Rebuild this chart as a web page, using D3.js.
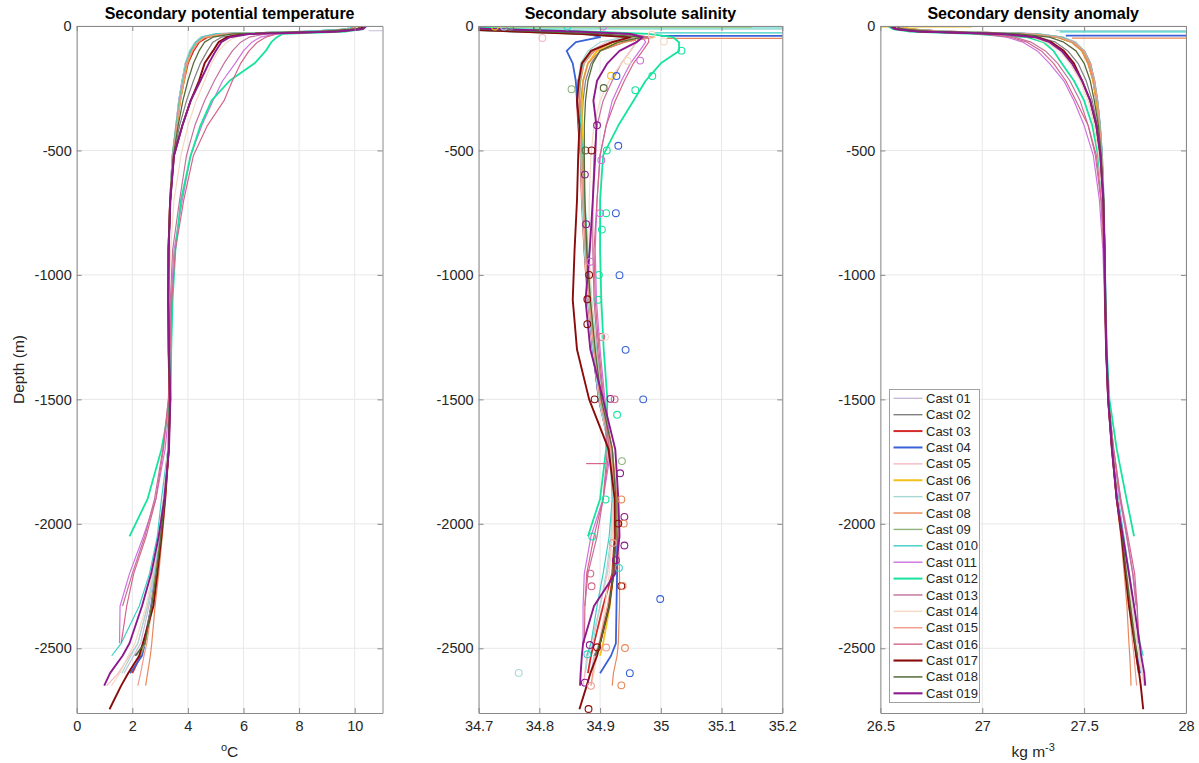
<!DOCTYPE html>
<html>
<head>
<meta charset="utf-8">
<script src="https://cdn.jsdelivr.net/npm/d3@7"></script>
<style>
  body { margin: 0; background: #fff; }
  text { font-family: "Liberation Sans", Arial, Helvetica, sans-serif; }
</style>
</head>
<body>
<svg id="chart" width="1199" height="763"></svg>
<script>
// ---- Sampling depths (m, positive downward) shared by every cast profile ----
const depthGrid = [2, 12, 22, 32, 45, 65, 100, 150, 220, 300, 400, 520, 700, 900,
                   1100, 1300, 1500, 1700, 1900, 2050, 2200, 2330, 2480, 2530, 2600, 2650, 2745];

const castNames = ["Cast 01","Cast 02","Cast 03","Cast 04","Cast 05","Cast 06","Cast 07","Cast 08",
                   "Cast 09","Cast 010","Cast 011","Cast 012","Cast 013","Cast 014","Cast 015",
                   "Cast 016","Cast 017","Cast 018","Cast 019"];

// ---- Potential temperature (°C) per cast, one value per depthGrid level ----
const temperature = [
  [9.9, 9.8, 8.2, 5.0, 4.5, 4.3, 4.1, 3.92, 3.82, 3.7, 3.58, 3.44, 3.35, 3.3, 3.28, 3.3, 3.34, 3.29, 3.14, 2.98, 2.8, 2.6, 2.3, 2.05, 1.7],
  [10.2, 10.1, 9.0, 6.0, 5.2, 4.9, 4.7, 4.45, 4.2, 3.95, 3.7, 3.5, 3.38, 3.31, 3.3, 3.32, 3.36, 3.3, 3.16, 3.02, 2.85, 2.68, 2.4, 2.15],
  [10.0, 9.9, 8.8, 5.4, 4.7, 4.4, 4.2, 4.0, 3.86, 3.72, 3.6, 3.46, 3.36, 3.3, 3.29, 3.31, 3.35, 3.31, 3.17, 3.03, 2.86, 2.7, 2.45, 2.3, 2.0],
  [10.1, 10.0, 8.5, 5.1, 4.55, 4.3, 4.1, 3.92, 3.8, 3.68, 3.58, 3.45, 3.36, 3.3, 3.28, 3.3, 3.34, 3.3, 3.16, 3.02, 2.84, 2.68, 2.45, 2.35, 1.92],
  [10.0, 9.9, 8.4, 5.0, 4.5, 4.3, 4.1, 3.9, 3.8, 3.68, 3.56, 3.44, 3.35, 3.3, 3.28, 3.3, 3.34, 3.28, 3.12, 2.95, 2.75, 2.55, 2.2, 1.9, 1.5, 1.08],
  [10.2, 10.0, 8.9, 5.3, 4.6, 4.35, 4.15, 3.97, 3.85, 3.72, 3.6, 3.46, 3.36, 3.3, 3.29, 3.31, 3.35, 3.31, 3.17, 3.03, 2.85, 2.7, 2.45, 2.25],
  [9.8, 9.7, 8.0, 4.9, 4.45, 4.25, 4.05, 3.9, 3.8, 3.68, 3.57, 3.44, 3.35, 3.3, 3.28, 3.3, 3.34, 3.28, 3.12, 2.96, 2.78, 2.55, 2.2, 1.95, 1.62],
  [10.1, 10.0, 8.6, 5.2, 4.6, 4.35, 4.15, 3.96, 3.84, 3.7, 3.58, 3.45, 3.36, 3.31, 3.3, 3.32, 3.36, 3.32, 3.2, 3.08, 2.95, 2.82, 2.7, 2.65, 2.55, 2.48],
  [10.0, 9.9, 8.3, 5.1, 4.55, 4.3, 4.1, 3.93, 3.82, 3.7, 3.58, 3.45, 3.36, 3.3, 3.29, 3.31, 3.35, 3.3, 3.17, 3.02, 2.86, 2.7, 2.45, 2.3],
  [9.9, 9.8, 8.1, 5.0, 4.5, 4.3, 4.1, 3.93, 3.82, 3.7, 3.58, 3.45, 3.36, 3.3, 3.29, 3.31, 3.33, 3.28, 3.05, 2.9, 2.62, 2.25, 1.6, 1.26],
  [10.3, 10.2, 9.4, 7.2, 6.6, 6.3, 6.0, 5.7, 5.25, 4.9, 4.5, 4.1, 3.8, 3.5, 3.4, 3.36, 3.36, 3.18, 2.85, 2.4, 1.9, 1.56, 1.54],
  [10.4, 10.3, 9.7, 7.4, 7.2, 7.0, 6.8, 6.4, 5.5, 4.85, 4.45, 4.1, 3.75, 3.55, 3.45, 3.4, 3.38, 3.05, 2.55, 1.9],
  [10.2, 10.1, 9.3, 6.8, 6.2, 5.9, 5.6, 5.3, 4.95, 4.6, 4.25, 3.95, 3.7, 3.45, 3.37, 3.34, 3.3, 3.1, 2.8, 2.45, 2.0, 1.65],
  [10.1, 10.0, 9.0, 6.2, 5.7, 5.4, 5.1, 4.85, 4.6, 4.3, 4.0, 3.75, 3.5, 3.38, 3.32, 3.32, 3.35, 3.28, 3.12, 2.95, 2.72, 2.5, 2.1, 1.85, 1.55, 1.25],
  [10.0, 9.9, 8.6, 5.2, 4.6, 4.35, 4.15, 3.95, 3.84, 3.72, 3.6, 3.46, 3.36, 3.31, 3.3, 3.32, 3.36, 3.31, 3.18, 3.05, 2.88, 2.72, 2.52, 2.42, 2.3, 2.2],
  [10.3, 10.2, 9.6, 7.2, 6.8, 6.5, 6.2, 5.9, 5.6, 5.3, 4.7, 4.2, 3.85, 3.55, 3.42, 3.36, 3.3, 3.12, 2.85, 2.5, 2.05, 1.8, 1.6],
  [10.3, 10.2, 9.2, 6.0, 5.4, 5.1, 4.9, 4.6, 4.4, 4.1, 3.8, 3.5, 3.36, 3.3, 3.29, 3.31, 3.35, 3.31, 3.18, 3.05, 2.9, 2.76, 2.38, 2.25, 1.85, 1.6, 1.18],
  [10.2, 10.1, 8.8, 5.6, 4.9, 4.6, 4.4, 4.2, 4.0, 3.82, 3.65, 3.48, 3.37, 3.31, 3.3, 3.32, 3.36, 3.31, 3.17, 3.03, 2.86, 2.7, 2.45, 2.1],
  [10.4, 10.3, 9.4, 6.2, 5.5, 5.2, 5.0, 4.75, 4.45, 4.1, 3.8, 3.5, 3.37, 3.31, 3.3, 3.32, 3.37, 3.32, 3.15, 2.95, 2.68, 2.35, 1.9, 1.65, 1.2, 0.99]
];

// ---- Absolute salinity (g/kg) per cast ----
const salinity = [
  [34.62, 34.66, 34.76, 34.87, 34.96, 34.92, 34.885, 34.87, 34.866, 34.865, 34.866, 34.868, 34.87, 34.875, 34.882, 34.89, 34.9, 34.918, 34.924, 34.924, 34.921, 34.915, 34.9, 34.89, 34.885],
  [34.64, 34.7, 34.8, 34.9, 34.98, 34.94, 34.9, 34.885, 34.876, 34.872, 34.87, 34.872, 34.874, 34.878, 34.884, 34.892, 34.902, 34.92, 34.926, 34.926, 34.922, 34.915, 34.9, 34.89],
  [34.6, 34.66, 34.78, 34.88, 34.97, 34.92, 34.89, 34.872, 34.864, 34.862, 34.864, 34.868, 34.87, 34.874, 34.88, 34.888, 34.898, 34.916, 34.923, 34.924, 34.92, 34.905, 34.89, 34.885, 34.88],
  [34.62, 34.68, 34.8, 34.88, 34.9, 34.86, 34.845, 34.855, 34.86, 34.862, 34.866, 34.87, 34.872, 34.876, 34.882, 34.888, 34.898, 34.918, 34.926, 34.928, 34.928, 34.927, 34.926, 34.918, 34.9],
  [34.6, 34.64, 34.74, 34.86, 34.95, 34.91, 34.885, 34.872, 34.868, 34.866, 34.867, 34.87, 34.872, 34.876, 34.882, 34.89, 34.9, 34.916, 34.922, 34.92, 34.912, 34.9, 34.885, 34.878, 34.875, 34.872],
  [34.6, 34.66, 34.78, 34.89, 34.97, 34.93, 34.895, 34.88, 34.872, 34.87, 34.87, 34.872, 34.874, 34.878, 34.884, 34.892, 34.902, 34.92, 34.926, 34.926, 34.922, 34.916, 34.905, 34.9],
  [34.61, 34.65, 34.75, 34.86, 34.94, 34.9, 34.88, 34.868, 34.864, 34.863, 34.865, 34.868, 34.87, 34.874, 34.88, 34.888, 34.898, 34.915, 34.92, 34.918, 34.91, 34.9, 34.888, 34.88, 34.876],
  [34.62, 34.68, 34.8, 34.9, 34.99, 34.94, 34.9, 34.88, 34.872, 34.868, 34.868, 34.87, 34.873, 34.878, 34.885, 34.893, 34.904, 34.92, 34.928, 34.93, 34.932, 34.932, 34.93, 34.928, 34.922, 34.92],
  [34.61, 34.66, 34.77, 34.88, 34.96, 34.92, 34.888, 34.874, 34.868, 34.866, 34.866, 34.869, 34.872, 34.876, 34.882, 34.89, 34.9, 34.918, 34.925, 34.925, 34.921, 34.914, 34.9, 34.892],
  [34.6, 34.64, 34.74, 34.86, 34.97, 34.92, 34.885, 34.872, 34.866, 34.866, 34.868, 34.872, 34.875, 34.88, 34.886, 34.894, 34.904, 34.918, 34.92, 34.915, 34.905, 34.895, 34.885, 34.878],
  [34.66, 34.72, 34.84, 34.94, 34.97, 34.975, 34.965, 34.95, 34.935, 34.92, 34.91, 34.9, 34.895, 34.892, 34.894, 34.9, 34.908, 34.918, 34.905, 34.885, 34.874, 34.872, 34.872],
  [34.68, 34.74, 34.88, 34.98, 35.02, 35.03, 35.03, 35.0, 34.975, 34.955, 34.93, 34.905, 34.9, 34.9, 34.902, 34.906, 34.912, 34.91, 34.9, 34.88],
  [34.65, 34.71, 34.83, 34.93, 34.96, 34.96, 34.95, 34.935, 34.92, 34.905, 34.895, 34.89, 34.888, 34.888, 34.89, 34.896, 34.905, 34.912, 34.905, 34.895, 34.88, 34.875],
  [34.64, 34.7, 34.82, 34.92, 34.96, 34.96, 34.95, 34.935, 34.915, 34.9, 34.89, 34.885, 34.882, 34.882, 34.886, 34.893, 34.903, 34.918, 34.922, 34.92, 34.915, 34.908, 34.9, 34.895, 34.89, 34.885],
  [34.6, 34.66, 34.76, 34.87, 34.97, 34.92, 34.89, 34.874, 34.866, 34.864, 34.866, 34.869, 34.872, 34.876, 34.882, 34.89, 34.9, 34.918, 34.924, 34.925, 34.922, 34.912, 34.898, 34.892, 34.888, 34.885],
  [34.66, 34.72, 34.85, 34.95, 34.98, 34.98, 34.97, 34.955, 34.94, 34.925, 34.91, 34.9, 34.895, 34.89, 34.892, 34.898, 34.906, 34.915, 34.905, 34.89, 34.878, 34.875, 34.874],
  [34.62, 34.66, 34.76, 34.87, 34.95, 34.92, 34.885, 34.87, 34.865, 34.862, 34.866, 34.864, 34.862, 34.858, 34.855, 34.862, 34.882, 34.914, 34.924, 34.925, 34.922, 34.915, 34.9, 34.895, 34.884, 34.878, 34.866],
  [34.63, 34.69, 34.8, 34.9, 34.97, 34.93, 34.9, 34.888, 34.88, 34.876, 34.874, 34.874, 34.875, 34.878, 34.884, 34.892, 34.902, 34.92, 34.926, 34.926, 34.922, 34.915, 34.9, 34.892],
  [34.64, 34.72, 34.86, 34.95, 34.97, 34.96, 34.932, 34.912, 34.895, 34.889, 34.894, 34.892, 34.888, 34.883, 34.876, 34.884, 34.905, 34.925, 34.93, 34.932, 34.925, 34.89, 34.872, 34.87, 34.868, 34.867]
];

// ---- Density anomaly (kg m^-3) per cast ----
const density = [
  [26.58, 26.6, 26.82, 27.26, 27.39, 27.45, 27.5, 27.53, 27.55, 27.565, 27.578, 27.588, 27.596, 27.6, 27.605, 27.61, 27.62, 27.64, 27.665, 27.69, 27.712, 27.732, 27.755, 27.764, 27.775],
  [26.56, 26.58, 26.7, 27.1, 27.28, 27.36, 27.42, 27.47, 27.51, 27.54, 27.565, 27.583, 27.594, 27.6, 27.604, 27.61, 27.62, 27.64, 27.663, 27.688, 27.708, 27.728, 27.752, 27.76],
  [26.6, 26.62, 26.8, 27.22, 27.37, 27.44, 27.49, 27.52, 27.545, 27.56, 27.575, 27.585, 27.595, 27.6, 27.604, 27.609, 27.618, 27.637, 27.66, 27.685, 27.705, 27.725, 27.748, 27.756, 27.768],
  [26.59, 26.61, 26.8, 27.25, 27.38, 27.45, 27.5, 27.53, 27.55, 27.565, 27.578, 27.588, 27.596, 27.601, 27.605, 27.61, 27.62, 27.64, 27.664, 27.689, 27.71, 27.728, 27.75, 27.758, 27.775],
  [26.6, 26.62, 26.85, 27.27, 27.4, 27.46, 27.5, 27.53, 27.552, 27.566, 27.578, 27.588, 27.596, 27.6, 27.605, 27.61, 27.62, 27.64, 27.666, 27.692, 27.715, 27.735, 27.76, 27.77, 27.785, 27.795],
  [26.62, 26.64, 26.78, 27.22, 27.37, 27.44, 27.49, 27.52, 27.545, 27.56, 27.575, 27.586, 27.595, 27.6, 27.604, 27.609, 27.619, 27.638, 27.662, 27.687, 27.707, 27.727, 27.75, 27.758],
  [26.58, 26.6, 26.86, 27.28, 27.4, 27.46, 27.5, 27.53, 27.55, 27.565, 27.578, 27.588, 27.596, 27.6, 27.605, 27.61, 27.62, 27.64, 27.666, 27.692, 27.714, 27.735, 27.76, 27.77, 27.782],
  [26.6, 26.62, 26.8, 27.24, 27.37, 27.44, 27.49, 27.52, 27.546, 27.562, 27.576, 27.586, 27.595, 27.6, 27.604, 27.609, 27.618, 27.636, 27.658, 27.68, 27.697, 27.71, 27.72, 27.724, 27.728, 27.73],
  [26.6, 26.62, 26.83, 27.25, 27.38, 27.45, 27.5, 27.53, 27.55, 27.565, 27.578, 27.588, 27.596, 27.6, 27.605, 27.61, 27.62, 27.64, 27.664, 27.689, 27.708, 27.727, 27.75, 27.758],
  [26.57, 26.6, 26.84, 27.27, 27.39, 27.45, 27.5, 27.53, 27.55, 27.565, 27.578, 27.588, 27.596, 27.6, 27.605, 27.61, 27.62, 27.642, 27.668, 27.695, 27.722, 27.745, 27.775, 27.79],
  [26.55, 26.57, 26.66, 26.98, 27.12, 27.2, 27.27, 27.33, 27.4, 27.45, 27.5, 27.545, 27.575, 27.592, 27.6, 27.606, 27.616, 27.64, 27.675, 27.71, 27.74, 27.76, 27.765],
  [26.54, 26.56, 26.64, 26.96, 27.22, 27.3, 27.35, 27.39, 27.45, 27.5, 27.54, 27.568, 27.593, 27.6, 27.605, 27.611, 27.624, 27.66, 27.708, 27.745],
  [26.55, 26.57, 26.68, 27.02, 27.16, 27.24, 27.31, 27.37, 27.43, 27.48, 27.52, 27.555, 27.582, 27.596, 27.602, 27.608, 27.618, 27.645, 27.678, 27.708, 27.738, 27.755],
  [26.57, 26.59, 26.72, 27.1, 27.24, 27.31, 27.38, 27.43, 27.48, 27.52, 27.55, 27.572, 27.59, 27.598, 27.604, 27.609, 27.619, 27.64, 27.665, 27.69, 27.715, 27.735, 27.76, 27.77, 27.784, 27.795],
  [26.6, 26.62, 26.82, 27.25, 27.38, 27.45, 27.5, 27.53, 27.55, 27.565, 27.577, 27.587, 27.595, 27.6, 27.604, 27.609, 27.618, 27.637, 27.66, 27.684, 27.703, 27.72, 27.738, 27.745, 27.752, 27.758],
  [26.55, 26.57, 26.67, 27.0, 27.14, 27.22, 27.29, 27.35, 27.41, 27.46, 27.52, 27.56, 27.585, 27.596, 27.602, 27.608, 27.618, 27.645, 27.68, 27.715, 27.748, 27.76, 27.77],
  [26.56, 26.58, 26.7, 27.12, 27.27, 27.34, 27.4, 27.45, 27.49, 27.53, 27.56, 27.58, 27.594, 27.6, 27.603, 27.608, 27.618, 27.637, 27.66, 27.684, 27.703, 27.72, 27.748, 27.756, 27.77, 27.778, 27.79],
  [26.58, 26.6, 26.75, 27.18, 27.33, 27.4, 27.46, 27.5, 27.53, 27.55, 27.57, 27.584, 27.595, 27.6, 27.604, 27.609, 27.619, 27.638, 27.662, 27.687, 27.707, 27.727, 27.75, 27.762],
  [26.55, 26.57, 26.68, 27.1, 27.26, 27.33, 27.39, 27.44, 27.49, 27.53, 27.56, 27.58, 27.594, 27.6, 27.604, 27.609, 27.618, 27.636, 27.66, 27.69, 27.72, 27.745, 27.772, 27.78, 27.795, 27.8]
];

// ---- Out-of-range sensor spikes (horizontal excursions at a single depth) ----
const tempSpikeCast  = [0];
const tempSpikeDepth = [19];
const tempSpikeFrom  = [10.5];
const tempSpikeTo    = [11.6];

const salSpikeCast  = [5, 9, 6, 9, 3, 7, 15];
const salSpikeDepth = [3, 8, 13, 28, 40, 50, 1758];
const salSpikeFrom  = [34.70, 34.60, 34.60, 34.99, 35.00, 35.01, 34.877];
const salSpikeTo    = [35.15, 35.30, 35.30, 35.30, 35.30, 35.30, 34.91];

const densSpikeCast  = [5, 6, 9, 3, 7];
const densSpikeDepth = [2, 18, 24, 39, 49];
const densSpikeFrom  = [26.50, 27.36, 27.38, 27.41, 27.44];
const densSpikeTo    = [26.95, 28.20, 28.20, 28.20, 28.20];

// ---- Bottle salinity samples (cast index, depth m, salinity) ----
const bottleCast  = [5, 6, 1, 17, 9, 10, 4, 11, 11, 10, 5, 3, 17, 11, 8, 13, 13, 13,
                     18, 17, 16, 11, 3, 10, 18, 11, 10, 3, 11, 18, 10, 16, 11, 3, 16, 11,
                     16, 15, 13, 3, 16, 18, 15, 3, 11, 8, 18, 11, 7, 18, 7, 16, 11, 14,
                     18, 18, 9, 15, 15, 16, 7, 3, 18, 16, 14, 7, 9, 6, 3, 18, 14, 7, 16];
const bottleDepth = [2, 2, 2, 2, 2, 2, 48, 99, 201, 139, 200, 201, 249, 258, 254, 35, 62, 140,
                     399, 500, 500, 500, 481, 539, 597, 752, 752, 752, 818, 796, 947, 1000, 1000, 1001, 1098, 1100,
                     1198, 1249, 1249, 1301, 1500, 1498, 1500, 1500, 1562, 1748, 1797, 1902, 1902, 1972, 1999, 1999, 2051, 2077,
                     2087, 2146, 2177, 2200, 2251, 2250, 2250, 2302, 2487, 2496, 2497, 2499, 2524, 2599, 2600, 2638, 2651, 2649, 2744];
const bottleSal   = [34.727, 34.742, 34.752, 34.796, 34.846, 34.905, 34.805, 35.034, 34.986, 34.966, 34.918, 34.927, 34.906, 34.958, 34.853, 34.985, 35.005, 34.945,
                     34.895, 34.876, 34.886, 34.911, 34.930, 34.902, 34.875, 34.910, 34.900, 34.926, 34.903, 34.877, 34.884, 34.882, 34.898, 34.932, 34.879, 34.897,
                     34.879, 34.902, 34.908, 34.942, 34.891, 34.917, 34.924, 34.971, 34.928, 34.936, 34.933, 34.909, 34.935, 34.940, 34.939, 34.930, 34.887, 34.921,
                     34.940, 34.926, 34.931, 34.884, 34.886, 34.935, 34.937, 34.999, 34.883, 34.895, 34.910, 34.941, 34.879, 34.766, 34.949, 34.875, 34.885, 34.935, 34.881];

// ---- Axis ticks ----
const depthTicks = [0, -500, -1000, -1500, -2000, -2500];
const tempTicks  = [0, 2, 4, 6, 8, 10];
const salTicks   = [34.7, 34.8, 34.9, 35, 35.1, 35.2];
const densTicks  = [26.5, 27, 27.5, 28];

// ---- Styling ----
const castColors = ["#c6bcd9", "#7f7f7f", "#d42a2a", "#3a62d8", "#f6b8c3", "#f2c11c", "#a6d9d6",
                    "#e9875a", "#8db47a", "#3ccfc4", "#cf72df", "#16e39c", "#c5719c", "#f4d8c3",
                    "#f29a8a", "#d4668a", "#8a0b0b", "#556b3a", "#8d1a8d"];
const castWidths = [1.2, 1.2, 1.8, 1.8, 1.2, 1.8, 1.2, 1.2, 1.2, 1.2, 1.2, 1.8, 1.2, 1.2, 1.2, 1.2, 1.9, 1.3, 1.9];

const axisColor = "#8a8a8a";
const gridColor = "#e8e8e8";
const textColor = "#262626";
const plotTop = 26, plotBottom = 713;

const svg = d3.select("#chart");
const y = d3.scaleLinear().domain([-2760, 0]).range([plotBottom, plotTop]);
const numFmt = d => String(+(+d).toFixed(2));

const panels = [
  { id: "temp", title: "Secondary potential temperature", x0: 76.7, x1: 382.5, domain: [0, 11], ticks: tempTicks,
    values: temperature, spikeCast: tempSpikeCast, spikeDepth: tempSpikeDepth, spikeFrom: tempSpikeFrom, spikeTo: tempSpikeTo },
  { id: "sal", title: "Secondary absolute salinity", x0: 478.6, x1: 782.3, domain: [34.7, 35.2], ticks: salTicks,
    values: salinity, spikeCast: salSpikeCast, spikeDepth: salSpikeDepth, spikeFrom: salSpikeFrom, spikeTo: salSpikeTo },
  { id: "dens", title: "Secondary density anomaly", x0: 880.4, x1: 1186, domain: [26.5, 28], ticks: densTicks,
    values: density, spikeCast: densSpikeCast, spikeDepth: densSpikeDepth, spikeFrom: densSpikeFrom, spikeTo: densSpikeTo }
];

const defs = svg.append("defs");

panels.forEach(p => {
  const x = d3.scaleLinear().domain(p.domain).range([p.x0, p.x1]);
  const g = svg.append("g");

  defs.append("clipPath").attr("id", "clip-" + p.id)
    .append("rect").attr("x", p.x0).attr("y", plotTop)
    .attr("width", p.x1 - p.x0).attr("height", plotBottom - plotTop);

  // grid
  const grid = g.append("g");
  grid.selectAll("line.vx").data(p.ticks).join("line")
    .attr("x1", d => x(d)).attr("x2", d => x(d))
    .attr("y1", plotTop).attr("y2", plotBottom)
    .attr("stroke", gridColor).attr("stroke-width", 1);
  grid.selectAll("line.hy").data(depthTicks).join("line")
    .attr("x1", p.x0).attr("x2", p.x1)
    .attr("y1", d => y(d)).attr("y2", d => y(d))
    .attr("stroke", gridColor).attr("stroke-width", 1);

  // profiles
  const plot = g.append("g").attr("clip-path", `url(#clip-${p.id})`);
  const line = d3.line().x(v => x(v)).y((v, i) => y(-depthGrid[i]));
  p.values.forEach((vals, c) => {
    plot.append("path")
      .attr("d", line(vals))
      .attr("fill", "none")
      .attr("stroke", castColors[c])
      .attr("stroke-width", castWidths[c])
      .attr("stroke-linejoin", "round");
    // spikes belonging to this cast
    p.spikeCast.forEach((sc, k) => {
      if (sc !== c) return;
      plot.append("line")
        .attr("x1", x(p.spikeFrom[k])).attr("x2", x(p.spikeTo[k]))
        .attr("y1", y(-p.spikeDepth[k])).attr("y2", y(-p.spikeDepth[k]))
        .attr("stroke", castColors[c]).attr("stroke-width", castWidths[c]);
    });
  });

  // bottle samples on the salinity panel
  if (p.id === "sal") {
    plot.selectAll("circle").data(d3.range(bottleCast.length)).join("circle")
      .attr("cx", i => x(bottleSal[i]))
      .attr("cy", i => y(-bottleDepth[i]))
      .attr("r", 3.4)
      .attr("fill", "none")
      .attr("stroke", i => castColors[bottleCast[i]])
      .attr("stroke-width", 1.1);
  }

  // axes (ticks pointing inward, box on)
  const styleAxis = sel => {
    sel.attr("font-size", 14.5).attr("font-family", null);
    sel.select(".domain").attr("stroke", axisColor);
    sel.selectAll(".tick line").attr("stroke", axisColor);
    sel.selectAll(".tick text").attr("fill", textColor);
  };
  g.append("g").attr("transform", `translate(0,${plotBottom})`)
    .call(d3.axisBottom(x).tickValues(p.ticks).tickSize(-5).tickSizeOuter(0).tickPadding(8).tickFormat(numFmt))
    .call(styleAxis);
  g.append("g").attr("transform", `translate(0,${plotTop})`)
    .call(d3.axisTop(x).tickValues(p.ticks).tickSize(-5).tickSizeOuter(0).tickFormat(""))
    .call(styleAxis);
  g.append("g").attr("transform", `translate(${p.x0},0)`)
    .call(d3.axisLeft(y).tickValues(depthTicks).tickSize(-5).tickSizeOuter(0).tickPadding(5).tickFormat(d => String(d)))
    .call(styleAxis);
  g.append("g").attr("transform", `translate(${p.x1},0)`)
    .call(d3.axisRight(y).tickValues(depthTicks).tickSize(-5).tickSizeOuter(0).tickFormat(""))
    .call(styleAxis);

  // title
  g.append("text")
    .attr("x", (p.x0 + p.x1) / 2).attr("y", 19)
    .attr("text-anchor", "middle")
    .attr("font-size", 16).attr("font-weight", "bold").attr("fill", "#000")
    .text(p.title);
});

// axis labels
svg.append("text")
  .attr("transform", `translate(24,${(plotTop + plotBottom) / 2}) rotate(-90)`)
  .attr("text-anchor", "middle").attr("font-size", 15.5).attr("fill", textColor)
  .text("Depth (m)");

const tLabel = svg.append("text")
  .attr("x", (panels[0].x0 + panels[0].x1) / 2).attr("y", 757)
  .attr("text-anchor", "middle").attr("font-size", 15.5).attr("fill", textColor);
tLabel.append("tspan").attr("font-size", 11).attr("dy", -6).text("o");
tLabel.append("tspan").attr("dy", 6).text("C");

const dLabel = svg.append("text")
  .attr("x", (panels[2].x0 + panels[2].x1) / 2).attr("y", 757)
  .attr("text-anchor", "middle").attr("font-size", 15.5).attr("fill", textColor);
dLabel.append("tspan").text("kg m");
dLabel.append("tspan").attr("font-size", 11).attr("dy", -6).text("-3");

// legend
const lg = svg.append("g");
const lgX = 889.5, lgY = 389.5, lgW = 90, lgH = 313, rowH = 16.39;
lg.append("rect").attr("x", lgX).attr("y", lgY).attr("width", lgW).attr("height", lgH)
  .attr("fill", "#fff").attr("stroke", "#a0a0a0").attr("stroke-width", 1);
castNames.forEach((name, i) => {
  const yy = 398.3 + i * rowH;
  lg.append("line").attr("x1", 893.5).attr("x2", 922.5).attr("y1", yy).attr("y2", yy)
    .attr("stroke", castColors[i]).attr("stroke-width", castWidths[i] + 0.2);
  lg.append("text").attr("x", 926).attr("y", yy).attr("dy", "0.35em")
    .attr("font-size", 13).attr("fill", textColor).text(name);
});
</script>
</body>
</html>
